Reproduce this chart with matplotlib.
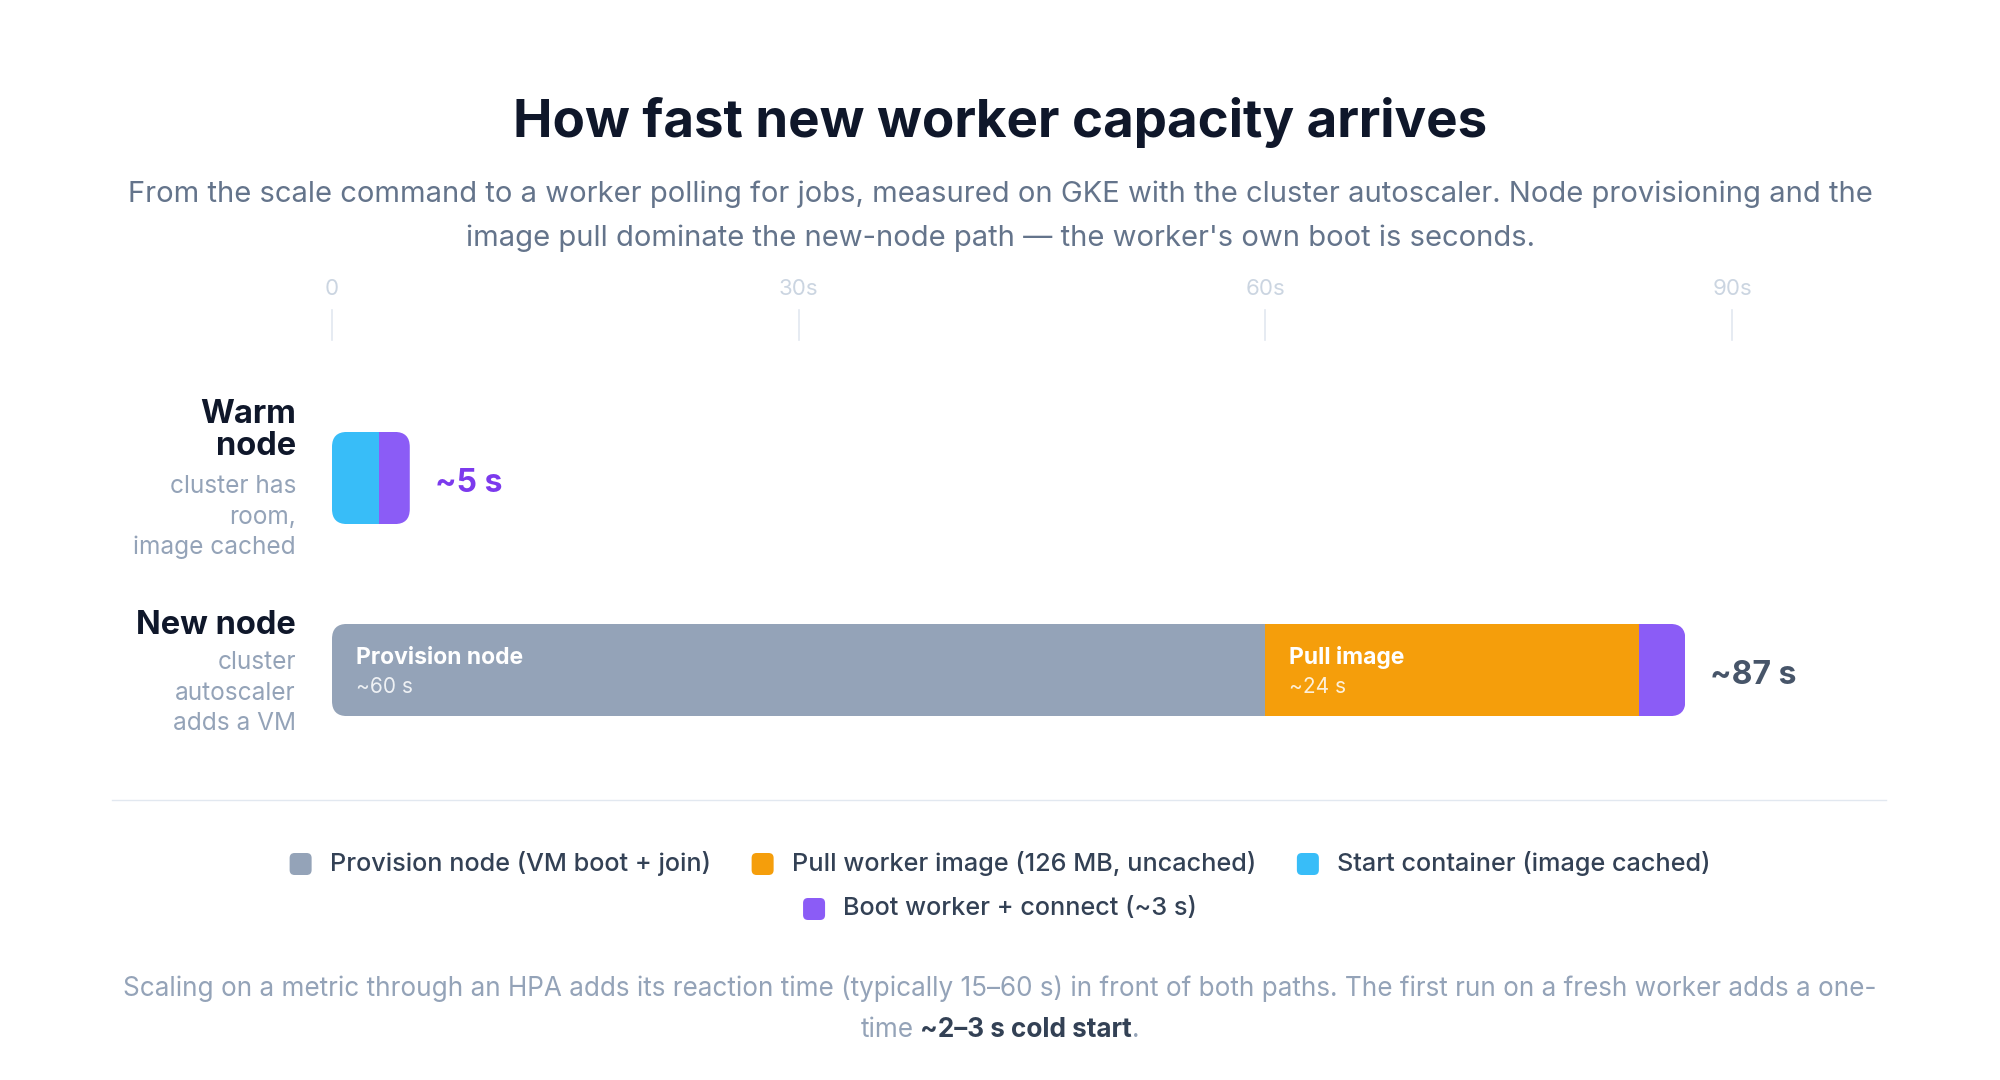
"""
How fast new worker capacity arrives - stacked timeline bars
"""

import matplotlib
matplotlib.use("Agg")
import matplotlib.pyplot as plt
from matplotlib.patches import FancyBboxPatch
from matplotlib.transforms import offset_copy

plt.rcParams['font.family'] = ['Inter', 'DejaVu Sans']

# ---- data -------------------------------------------------------------
row_titles = [["Warm", "node"], ["New node"]]
row_notes = [["cluster has", "room,", "image cached"], ["cluster", "autoscaler", "adds a VM"]]

stages = ["Provision node (VM boot + join)",
          "Pull worker image (126 MB, uncached)",
          "Start container (image cached)",
          "Boot worker + connect (~3 s)"]
stage_short = ["Provision node", "Pull image", "Start container", "Boot worker"]
stage_colors = ["#94a3b8", "#f59e0b", "#38bdf8", "#8b5cf6"]

# seconds spent in each stage, per row (same order as stages)
warm_secs = [0, 0, 3, 2]
new_secs = [60, 24, 0, 3]
row_secs = [warm_secs, new_secs]

total_labels = ["~5 s", "~87 s"]
total_colors = ["#7c3aed", "#475569"]

tick_vals = [0, 30, 60, 90]
tick_labels = ["0", "30s", "60s", "90s"]

title = "How fast new worker capacity arrives"
subtitle = ["From the scale command to a worker polling for jobs, measured on GKE with the "
            "cluster autoscaler. Node provisioning and the",
            "image pull dominate the new-node path \u2014 the worker's own boot is seconds."]
foot_1 = ("Scaling on a metric through an HPA adds its reaction time (typically 15\u201360 s) "
          "in front of both paths. The first run on a fresh worker adds a one-")
foot_2 = ["time", "~2\u20133 s cold start", "."]

# ---- layout (pixels) ----------------------------------------------------
W, H = 2000, 1080
X0, X90 = 332, 1732          # x pixel of 0 s and 90 s
ROW_Y = [478, 670]           # pixel centre of each bar
ROW_STEP = ROW_Y[1] - ROW_Y[0]
BAR_H = 0.48                 # in row units

fig = plt.figure(figsize=(W / 100, H / 100), dpi=100)
fig.patch.set_facecolor("white")

# background axes in pixel coordinates for all free text
bg = fig.add_axes([0, 0, 1, 1])
bg.set_xlim(0, W)
bg.set_ylim(H, 0)
bg.axis("off")

# bar axes: x in seconds, y in rows
y_top, y_bot = -0.6, 1.6
ax_top_px = ROW_Y[0] + y_top * ROW_STEP
ax_h_px = (y_bot - y_top) * ROW_STEP
ax = fig.add_axes([X0 / W, (H - ax_top_px - ax_h_px) / H, (X90 - X0) / W, ax_h_px / H])
ax.set_xlim(0, 90)
ax.set_ylim(y_bot, y_top)
ax.axis("off")

px_per_s = (X90 - X0) / 90
radius_px = 15
r_s = radius_px / px_per_s
aspect = px_per_s / ROW_STEP

# title + subtitle
bg.text(W / 2, 137, title, ha="center", va="baseline", fontsize=38,
        fontweight="bold", color="#0f172a")
for line, yb in zip(subtitle, [202, 246]):
    bg.text(W / 2, yb, line, ha="center", va="baseline", fontsize=21,
            color="#64748b")

# time axis on top
for v, lab in zip(tick_vals, tick_labels):
    x = X0 + v * px_per_s
    bg.text(x, 295, lab, ha="center", va="baseline", fontsize=16, color="#cbd5e1")
    bg.plot([x, x], [310, 340], color="#e2e8f0", lw=1.2)

# bars
for i, secs in enumerate(row_secs):
    total = sum(secs)
    clip = FancyBboxPatch((0, i - BAR_H / 2), total, BAR_H,
                          boxstyle=f"round,pad=0,rounding_size={r_s}",
                          mutation_aspect=aspect, facecolor="none",
                          edgecolor="none")
    ax.add_patch(clip)
    left = 0
    for k, s in enumerate(secs):
        if s == 0:
            continue
        bars = ax.barh(i, s, left=left, height=BAR_H, color=stage_colors[k],
                       linewidth=0)
        for b in bars:
            b.set_clip_path(clip)
        if s >= 10:
            tr1 = offset_copy(ax.transData, fig=fig, x=24, y=6, units="dots")
            ax.text(left, i, stage_short[k], transform=tr1, ha="left",
                    va="baseline", fontsize=16.5, fontweight="bold", color="white")
            tr2 = offset_copy(ax.transData, fig=fig, x=24, y=-23, units="dots")
            ax.text(left, i, f"~{s} s", transform=tr2, ha="left", va="baseline",
                    fontsize=15, color="white", alpha=0.85)
        left += s
    trt = offset_copy(ax.transData, fig=fig, x=25, y=-5, units="dots")
    ax.text(total, i, total_labels[i], transform=trt, ha="left", va="center",
            fontsize=23, fontweight="bold", color=total_colors[i])

# row labels (one text per line)
title_base = [423, 634]
note_base = [493, 669]
for i in range(len(row_titles)):
    for j, line in enumerate(row_titles[i]):
        bg.text(296, title_base[i] + j * 32, line, ha="right", va="baseline",
                fontsize=23.5, fontweight="bold", color="#0f172a")
    for j, line in enumerate(row_notes[i]):
        bg.text(296, note_base[i] + j * 30.7, line, ha="right", va="baseline",
                fontsize=17.6, color="#94a3b8")

# divider
bg.plot([112, 1886], [800, 800], color="#e2e8f0", lw=1)

# legend (two centred rows)
renderer = fig.canvas.get_renderer()
legend_rows = [[0, 1, 2], [3]]
legend_y = [864, 909]
sq, gap_txt, gap_item = 22, 18, 41
for row, yc in zip(legend_rows, legend_y):
    texts = []
    widths = []
    for k in row:
        t = bg.text(0, yc, stages[k], ha="left", va="center", fontsize=18.2,
                    fontweight="medium", color="#334155")
        texts.append(t)
        widths.append(t.get_window_extent(renderer=renderer).width)
    total_w = sum(sq + gap_txt + w for w in widths) + gap_item * (len(row) - 1)
    x = W / 2 - total_w / 2
    for k, t, w in zip(row, texts, widths):
        bg.add_patch(FancyBboxPatch((x, yc - sq / 2), sq, sq,
                                    boxstyle="round,pad=0,rounding_size=5",
                                    facecolor=stage_colors[k], edgecolor="none"))
        t.set_x(x + sq + gap_txt)
        x += sq + gap_txt + w + gap_item

# footnote
bg.text(W / 2, 996, foot_1, ha="center", va="baseline", fontsize=18.8,
        color="#94a3b8")
styles = [("normal", "#94a3b8"), ("bold", "#334155"), ("normal", "#94a3b8")]
pieces = []
for s, (wt, c) in zip(foot_2, styles):
    t = bg.text(0, 1037, s, ha="left", va="baseline", fontsize=18.8,
                fontweight=wt, color=c)
    pieces.append(t)
pw = [p.get_window_extent(renderer=renderer).width for p in pieces]
space = 6
total_w = sum(pw) + space
x = W / 2 - total_w / 2
for j, (p, w) in enumerate(zip(pieces, pw)):
    p.set_x(x)
    x += w + (space if j == 0 else 0)

fig.savefig("out.png", dpi=100, facecolor="white")
